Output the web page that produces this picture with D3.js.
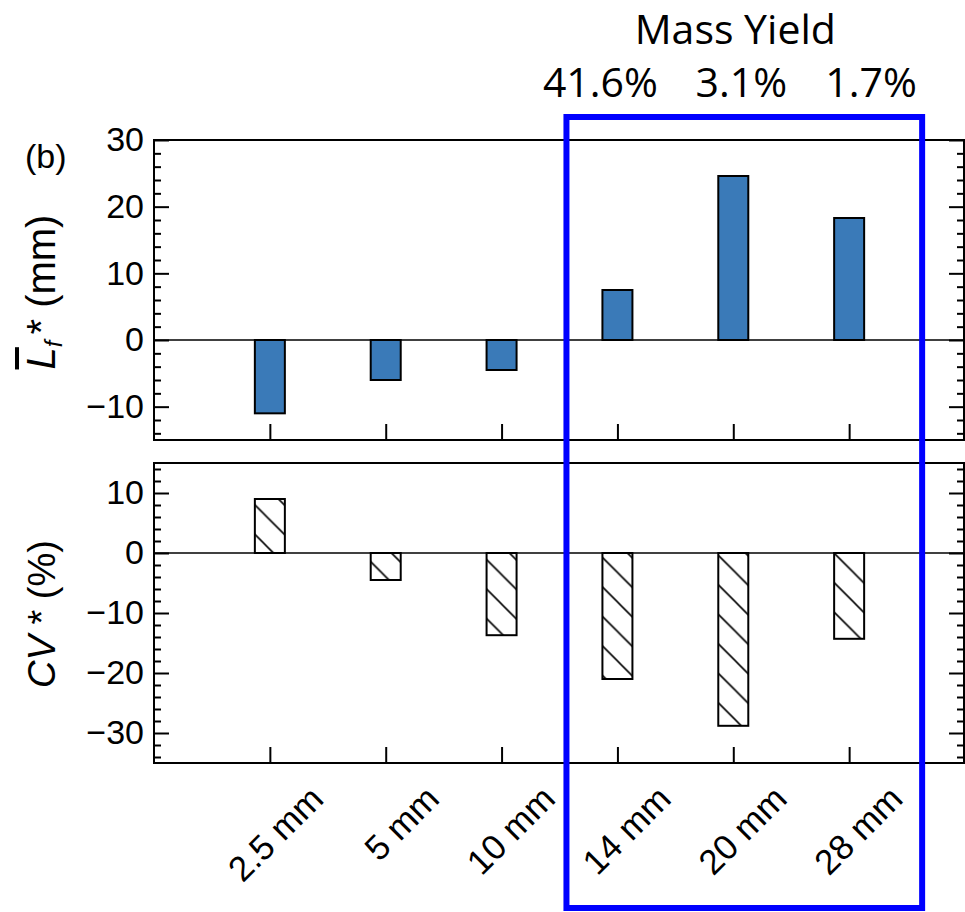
<!DOCTYPE html>
<html>
  <script src="https://d3js.org/d3.v7.min.js" type="text/JavaScript"></script>
  <style>
    body { margin: 0; background: #fff; }
    svg { display: block; }
  </style>
  <body>
    <svg></svg>
    <script>
// categories (particle size classes) and values
var categories = ['2.5 mm', '5 mm', '10 mm', '14 mm', '20 mm', '28 mm'];
var lfValues = [-11, -6, -4.5, 7.5, 24.6, 18.3];      // L_f* (mm)
var cvValues = [9, -4.5, -13.7, -21, -28.8, -14.3];   // CV* (%)
var lfTicks = [-10, 0, 10, 20, 30];
var cvTicks = [-30, -20, -10, 0, 10];
var yieldCats = ['14 mm', '20 mm', '28 mm'];
var yieldLabels = ['41.6%', '3.1%', '1.7%'];

var W = 965, H = 912;
var left = 154, right = 965;
var svg = d3.select('svg').attr('width', W).attr('height', H);

var tickFont = '"Liberation Sans", Arial, sans-serif';

var x = d3.scalePoint().domain(categories).range([left, right]).padding(1);
var yTop = d3.scaleLinear().domain([-15, 30]).range([440, 140]);
var yBot = d3.scaleLinear().domain([-35, 15]).range([763, 463]);

// hatch pattern for the CV bars
var defs = svg.append('defs');
var p = 29.5;
var pat = defs.append('pattern')
  .attr('id', 'hatch')
  .attr('patternUnits', 'userSpaceOnUse')
  .attr('width', p).attr('height', p)
  .attr('y', 14);
pat.append('rect').attr('width', p).attr('height', p).attr('fill', 'white');
pat.append('path')
  .attr('d', `M-2,-2 L${p + 2},${p + 2} M${p - 2},-2 L${p + 2},2 M-2,${p - 2} L2,${p + 2}`)
  .attr('stroke', 'black').attr('stroke-width', 1.6);

function panel(y, values, ticks, fill, showLabels) {
  var g = svg.append('g');
  var y0 = y.range()[1], y1 = y.range()[0];

  // bars
  g.selectAll('rect.bar')
    .data(values)
    .enter()
    .append('rect')
      .attr('class', 'bar')
      .attr('x', (d, i) => x(categories[i]) - 15)
      .attr('width', 30)
      .attr('y', d => y(Math.max(0, d)))
      .attr('height', d => Math.abs(y(d) - y(0)))
      .style('fill', fill)
      .style('stroke', 'black')
      .style('stroke-width', '2px');

  // zero line
  g.append('line')
    .attr('x1', left).attr('x2', right)
    .attr('y1', y(0)).attr('y2', y(0))
    .style('stroke', 'black').style('stroke-width', '1.6px');

  // minor ticks (every 2)
  var dom = y.domain();
  var minor = d3.range(Math.ceil(dom[0] / 2) * 2, dom[1] + 0.01, 2).filter(v => v % 10 !== 0);

  g.append('g').attr('transform', `translate(${left},0)`)
    .call(d3.axisLeft(y).tickValues(minor).tickSize(-7).tickFormat(''));
  g.append('g').attr('transform', `translate(${right - 1},0)`)
    .call(d3.axisRight(y).tickValues(minor).tickSize(-7).tickFormat(''));

  g.append('g').attr('transform', `translate(${left},0)`)
    .call(d3.axisLeft(y).tickValues(ticks).tickSize(-15).tickPadding(10).tickFormat(d => d < 0 ? '\u2212' + Math.abs(d) : d))
    .selectAll('text')
      .style('font-family', tickFont).style('font-size', '34px').style('fill', 'black');
  g.append('g').attr('transform', `translate(${right - 1},0)`)
    .call(d3.axisRight(y).tickValues(ticks).tickSize(-15).tickFormat(''));

  var xa = g.append('g').attr('transform', `translate(0,${y1})`)
    .call(d3.axisBottom(x).tickSize(-16).tickPadding(0).tickFormat(showLabels ? null : ''));

  if (showLabels) {
    xa.selectAll('text')
      .attr('text-anchor', 'end')
      .attr('transform', 'translate(55,38) rotate(-45)')
      .attr('dy', 0)
      .style('font-family', tickFont).style('font-size', '35px').style('fill', 'black');
  }

  g.selectAll('.domain').remove();
  g.selectAll('.tick line').style('stroke', 'black').style('stroke-width', '2px');

  // frame
  g.append('rect')
    .attr('x', left).attr('y', y0)
    .attr('width', right - left - 1).attr('height', y1 - y0)
    .style('fill', 'none').style('stroke', 'black').style('stroke-width', '2px');
  return g;
}

panel(yTop, lfValues, lfTicks, '#3a7ab8', false);
panel(yBot, cvValues, cvTicks, 'url(#hatch)', true);

// y labels
var lab1 = svg.append('text')
  .attr('transform', 'translate(55,292) rotate(-90)')
  .attr('text-anchor', 'middle')
  .style('font-family', tickFont).style('font-size', '40px');
lab1.append('tspan').text('L').style('font-style', 'italic').style('text-decoration', 'overline');
lab1.append('tspan').text('f').style('font-style', 'italic').style('font-size', '24px').attr('dy', 7);
lab1.append('tspan').text('*').attr('dy', -7).attr('dx', 6);
lab1.append('tspan').text(' (mm)');

var lab2 = svg.append('text')
  .attr('transform', 'translate(55,614) rotate(-90)')
  .attr('text-anchor', 'middle')
  .style('font-family', tickFont).style('font-size', '38px');
lab2.append('tspan').text('CV').style('font-style', 'italic');
lab2.append('tspan').text(' * (%)');

// panel tag
svg.append('text')
  .attr('x', 25).attr('y', 168)
  .text('(b)')
  .style('font-family', tickFont).style('font-size', '34px');

// blue highlight box and mass yield annotation
var step = x.step();
var bx0 = x(yieldCats[0]) - 0.44 * step;
var bx1 = x(yieldCats[2]) + 0.63 * step;
svg.append('rect')
  .attr('x', bx0).attr('y', 117)
  .attr('width', bx1 - bx0).attr('height', 791)
  .style('fill', 'none').style('stroke', '#0000ff').style('stroke-width', '6px');

var annFont = '"Open Sans", "Noto Sans", sans-serif';
svg.append('text')
  .attr('x', (bx0 + bx1) / 2 - 9).attr('y', 44)
  .attr('text-anchor', 'middle')
  .text('Mass Yield')
  .style('font-family', annFont).style('font-size', '41px');

var offsets = [-17, 8, 22];
svg.selectAll('text.yield')
  .data(yieldLabels)
  .enter()
  .append('text')
    .attr('class', 'yield')
    .attr('x', (d, i) => x(yieldCats[i]) + offsets[i])
    .attr('y', 97)
    .attr('text-anchor', 'middle')
    .text(d => d)
    .style('font-family', annFont).style('font-size', '41px');
    </script>
  </body>
</html>
